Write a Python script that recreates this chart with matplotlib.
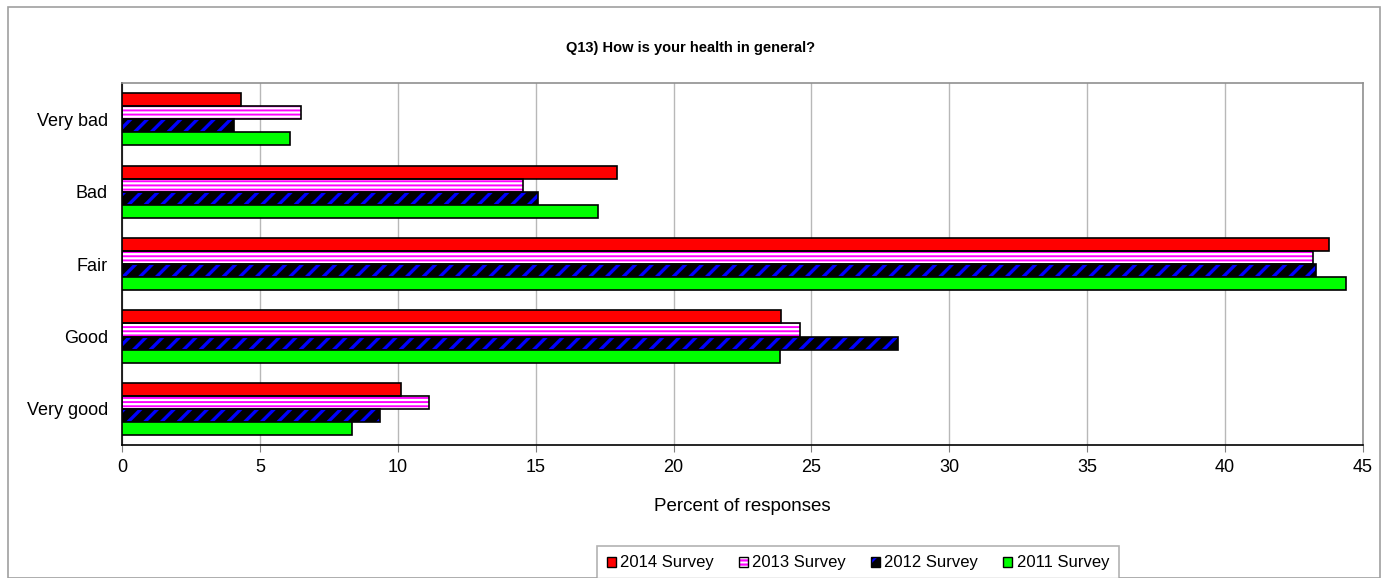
import numpy as np
import matplotlib
matplotlib.use("Agg")
import matplotlib.pyplot as plt
from matplotlib.patches import Rectangle, Patch
from matplotlib.legend_handler import HandlerTuple

plt.rcParams['font.family'] = ['Liberation Sans', 'DejaVu Sans']
plt.rcParams['hatch.linewidth'] = 1.6

# data
categories = ["Very bad", "Bad", "Fair", "Good", "Very good"]
series = ["2014 Survey", "2013 Survey", "2012 Survey", "2011 Survey"]
v2014 = [4.3, 17.95, 43.75, 23.9, 10.1]
v2013 = [6.5, 14.55, 43.2, 24.6, 11.15]
v2012 = [4.05, 15.1, 43.3, 28.15, 9.35]
v2011 = [6.1, 17.25, 44.4, 23.85, 8.35]
values = [v2014, v2013, v2012, v2011]

# face colour, hatch colour, hatch pattern, hatch line width
styles = [
    ("#ff0000", None, None, 0),
    ("white", "#ff00ff", "----", 1.4),
    ("black", "#0000ff", "//", 2.4),
    ("#00ff00", None, None, 0),
]


def set_hlw(patches, lw):
    # per-patch hatch width where matplotlib supports it
    for p in patches:
        if hasattr(p, "set_hatch_linewidth"):
            p.set_hatch_linewidth(lw)


fig = plt.figure(figsize=(13.81, 5.78), dpi=100)
ax = fig.add_axes([0.0883, 0.230, 0.8987, 0.626])

# chart outer border
fig.patches.append(Rectangle((8 / 1381, 0), 1372 / 1381, 1 - 7 / 578,
                             transform=fig.transFigure, fill=False,
                             edgecolor="#a0a0a0", linewidth=1.2))

y = np.arange(len(categories))
h = 0.18
for i, (vals, (fc, hc, hatch, hlw)) in enumerate(zip(values, styles)):
    pos = y - 1.5 * h + i * h
    if hatch:
        bars = ax.barh(pos, vals, height=h, color=fc, edgecolor=hc, hatch=hatch,
                       linewidth=0, zorder=2)
        set_hlw(bars, hlw)
        ax.barh(pos, vals, height=h, fill=False, edgecolor="black",
                linewidth=1.2, zorder=3)
    else:
        ax.barh(pos, vals, height=h, color=fc, edgecolor="black",
                linewidth=1.2, zorder=3)

ax.set_ylim(len(categories) - 0.5, -0.5)
ax.set_xlim(0, 45)
ax.set_xticks(np.arange(0, 46, 5))
ax.set_yticks(y)
ax.set_yticklabels(categories, fontsize=13)
ax.tick_params(axis='x', labelsize=13, length=5, color="#808080", pad=5)
ax.tick_params(axis='y', length=0, pad=10)
ax.grid(axis='x', color="#b8b8b8", linewidth=1, zorder=0)
ax.set_axisbelow(True)

for side in ["top", "right"]:
    ax.spines[side].set_color("#909090")
    ax.spines[side].set_linewidth(1.2)
for side in ["left", "bottom"]:
    ax.spines[side].set_color("black")
    ax.spines[side].set_linewidth(1.2)

ax.set_xlabel("Percent of responses", fontsize=13.5, labelpad=16)
fig.text(0.5, 1 - 48 / 578, "Q13) How is your health in general?",
         ha="center", va="center", fontsize=10.5, fontweight="bold")

handles = []
for fc, hc, hatch, hlw in styles:
    if hatch:
        hp = Patch(facecolor=fc, edgecolor=hc, hatch=hatch, linewidth=0)
        set_hlw([hp], hlw)
        handles.append((hp, Patch(fill=False, edgecolor="black", linewidth=1)))
    else:
        handles.append(Patch(facecolor=fc, edgecolor="black", linewidth=1))
leg = fig.legend(handles=handles, labels=series, loc="center", ncol=4,
                 handler_map={tuple: HandlerTuple(ndivide=1)},
                 bbox_to_anchor=(858 / 1381, 1 - 563 / 578),
                 fontsize=12, frameon=True, fancybox=False,
                 handlelength=0.55, handleheight=0.55, handletextpad=0.25,
                 columnspacing=1.5, borderpad=0.6)
leg.get_frame().set_edgecolor("#a0a0a0")
leg.get_frame().set_linewidth(1.2)

fig.savefig("out.png", dpi=100)
